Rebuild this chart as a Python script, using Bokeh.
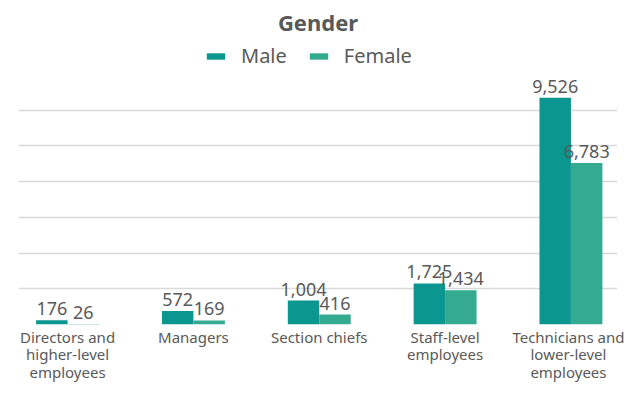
from bokeh.plotting import figure
from bokeh.models import ColumnDataSource, Legend, LegendItem, FixedTicker
from bokeh.transform import dodge
from bokeh.embed import file_html
from bokeh.resources import INLINE
from bokeh.core.properties import value

categories = ["Directors and\nhigher-level\nemployees", "Managers", "Section chiefs",
              "Staff-level\nemployees", "Technicians and\nlower-level\nemployees"]
male = [176, 572, 1004, 1725, 9526]
female = [26, 169, 416, 1434, 6783]
series = ["Male", "Female"]
colors = ["#0b9690", "#34ab91"]
grid_values = [0, 1500, 3000, 4500, 6000, 7500, 9000]

FONT = "Noto Sans"
TXT = "#595959"

idx = list(range(len(categories)))
src = ColumnDataSource(dict(
    x=idx, male=male, female=female,
    male_lbl=[f"{v:,}" for v in male],
    female_lbl=[f"{v:,}" for v in female],
))

p = figure(width=624, height=384, output_backend="svg", toolbar_location=None,
           x_range=(-0.39, 4.37), y_range=(0, 11930),
           min_border_left=18, min_border_right=7, min_border_top=37, min_border_bottom=58)
p.title.text = "Gender"
p.title.align = "center"
p.title.text_font = FONT
p.title.text_font_size = "22px"
p.title.text_font_style = "bold"
p.title.text_color = TXT
p.title.standoff = 8
p.outline_line_color = None

bw = 0.25
r1 = p.vbar(x=dodge("x", -bw / 2, range=p.x_range), top="male", width=bw, source=src,
            fill_color=colors[0], line_color=None)
r2 = p.vbar(x=dodge("x", bw / 2, range=p.x_range), top="female", width=bw, source=src,
            fill_color=colors[1], line_color=None)

for col, lbl, off in [("male", "male_lbl", -bw / 2), ("female", "female_lbl", bw / 2)]:
    p.text(x=dodge("x", off, range=p.x_range), y=col, text=lbl, source=src,
           text_align="center", text_baseline="bottom", y_offset=-5,
           text_font=value(FONT), text_font_size="18px", text_color=TXT)

legend = Legend(items=[LegendItem(label=series[0], renderers=[r1]),
                       LegendItem(label=series[1], renderers=[r2])],
                orientation="horizontal", location=(186, 255),
                glyph_width=23, glyph_height=8, label_standoff=14, spacing=20,
                label_text_font=FONT, label_text_font_size="20px", label_text_color=TXT,
                border_line_color=None, background_fill_alpha=0, margin=0, padding=2)
p.add_layout(legend)

p.yaxis.visible = False
p.ygrid.ticker = FixedTicker(ticks=grid_values)
p.ygrid.grid_line_color = "#d9d9d9"
p.ygrid.grid_line_width = 1.5
p.xgrid.visible = False

p.xaxis.ticker = FixedTicker(ticks=idx)
p.xaxis.major_label_overrides = {i: c for i, c in enumerate(categories)}
p.xaxis.axis_line_color = None
p.xaxis.major_tick_line_color = None
p.xaxis.minor_tick_line_color = None
p.xaxis.major_tick_out = 0
p.xaxis.major_tick_in = 0
p.xaxis.minor_tick_out = 0
p.xaxis.minor_tick_in = 0
p.xaxis.major_label_text_font = FONT
p.xaxis.major_label_text_font_size = "15px"
p.xaxis.major_label_text_color = TXT
p.xaxis.major_label_text_line_height = 0.88
p.xaxis.major_label_standoff = 2

open("out.html", "w").write(file_html(p, INLINE))
